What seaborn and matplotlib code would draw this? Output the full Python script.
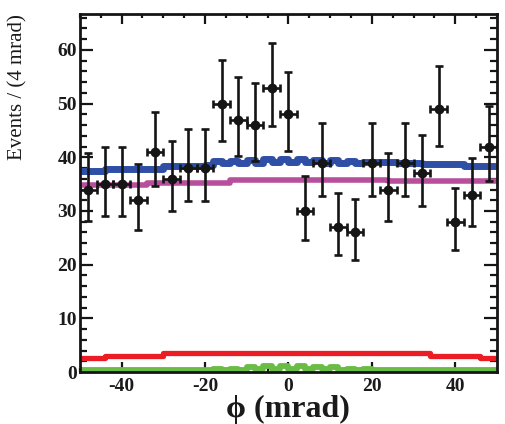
import numpy as np
import pandas as pd
import matplotlib
matplotlib.use("Agg")
import matplotlib.pyplot as plt
from matplotlib.ticker import MultipleLocator
import seaborn as sns

# Binned data: 4 mrad bins from -50 to 50 mrad
phi_centers = [-48, -44, -40, -36, -32, -28, -24, -20, -16, -12, -8, -4, 0,
               4, 8, 12, 16, 20, 24, 28, 32, 36, 40, 44, 48]
events = [34, 35, 35, 32, 41, 36, 38, 38, 50, 47, 46, 53, 48,
          30, 39, 27, 26, 39, 34, 39, 37, 49, 28, 33, 42]
# Asymmetric (Poisson) uncertainties
err_low = [5.80, 5.88, 5.88, 5.62, 6.37, 5.97, 6.13, 6.13, 7.04, 6.82, 6.75, 7.25, 6.90,
           5.44, 6.21, 5.16, 5.06, 6.21, 5.80, 6.21, 6.05, 6.97, 5.26, 5.71, 6.45]
err_high = [6.89, 6.98, 6.98, 6.72, 7.46, 7.06, 7.22, 7.22, 8.12, 7.91, 7.84, 8.33, 7.98,
            6.55, 7.30, 6.27, 6.17, 7.30, 6.89, 7.30, 7.14, 8.05, 6.36, 6.81, 7.54]

# Fit components, evaluated on 2 mrad steps from -50 to 50 mrad
total_fit = [37.4, 37.4, 37.4, 37.9, 37.9, 37.9, 37.9, 37.9, 37.9, 37.9,
             38.3, 38.3, 38.3, 38.3, 38.4, 38.6, 39.4, 38.9, 39.4, 39.0,
             39.5, 39.0, 39.6, 39.1, 39.6, 39.1, 39.6, 39.1, 39.5, 39.0,
             39.5, 39.0, 39.3, 38.9, 39.2, 39.1, 39.1, 39.1, 38.9, 38.9,
             38.9, 38.8, 38.8, 38.8, 38.8, 38.8, 38.3, 38.3, 38.3, 38.3]
background = [34.9, 34.9, 34.9, 34.9, 34.9, 34.9, 34.9, 34.9, 35.3, 35.3,
              35.3, 35.3, 35.3, 35.3, 35.3, 35.3, 35.3, 35.3, 35.7, 35.7,
              35.7, 35.7, 35.7, 35.7, 35.7, 35.7, 35.7, 35.7, 35.7, 35.7,
              35.7, 35.7, 35.7, 35.7, 35.7, 35.7, 35.7, 35.6, 35.6, 35.6,
              35.6, 35.6, 35.6, 35.6, 35.6, 35.6, 35.6, 35.6, 35.6, 35.6]
peaking_bkg = [2.7, 2.7, 2.7, 3.0, 3.0, 3.0, 3.0, 3.0, 3.0, 3.0,
               3.45, 3.45, 3.45, 3.45, 3.45, 3.45, 3.45, 3.45, 3.45, 3.45,
               3.45, 3.45, 3.45, 3.45, 3.45, 3.45, 3.45, 3.45, 3.45, 3.45,
               3.45, 3.45, 3.45, 3.45, 3.45, 3.45, 3.45, 3.45, 3.45, 3.45,
               3.45, 3.45, 3.0, 3.0, 3.0, 3.0, 3.0, 3.0, 2.7, 2.7]
signal = [0.3, 0.3, 0.3, 0.3, 0.3, 0.3, 0.3, 0.3, 0.3, 0.3,
          0.3, 0.3, 0.3, 0.3, 0.3, 0.4, 0.65, 0.4, 0.65, 0.45,
          0.85, 0.5, 1.05, 0.55, 1.2, 0.55, 1.15, 0.55, 1.0, 0.5,
          0.9, 0.45, 0.6, 0.4, 0.55, 0.3, 0.3, 0.3, 0.3, 0.3,
          0.3, 0.3, 0.3, 0.3, 0.3, 0.3, 0.3, 0.3, 0.3, 0.3]

x_tick_values = [-40, -20, 0, 20, 40]
y_tick_values = [0, 10, 20, 30, 40, 50, 60]

sns.set_theme(style="ticks")
plt.rcParams["font.family"] = ["Liberation Serif", "DejaVu Serif"]
plt.rcParams["axes.unicode_minus"] = False

fig = plt.figure(figsize=(5.06, 4.24), dpi=100)
ax = fig.add_axes([0.158, 0.1226, 0.824, 0.8444])

edges = np.arange(-50, 51, 2)
curves = pd.DataFrame({
    "phi": np.tile(edges, 4),
    "value": np.concatenate([
        np.append(total_fit, total_fit[-1]),
        np.append(background, background[-1]),
        np.append(peaking_bkg, peaking_bkg[-1]),
        np.append(signal, signal[-1]),
    ]),
    "component": np.repeat(["total", "background", "peaking", "signal"], len(edges)),
})
palette = {"total": "#2f4fa6", "background": "#b84f9c",
           "peaking": "#ec1c24", "signal": "#69bd45"}
widths = {"total": 5.0, "background": 4.0, "peaking": 3.8, "signal": 4.2}
for comp in ["signal", "peaking", "background", "total"]:
    sub = curves[curves["component"] == comp]
    sns.lineplot(data=sub, x="phi", y="value", ax=ax, color=palette[comp],
                 linewidth=widths[comp], drawstyle="steps-post",
                 solid_capstyle="butt", solid_joinstyle="round",
                 legend=False, zorder=2, clip_on=(comp != "signal"))

points = pd.DataFrame({"phi": phi_centers, "events": events})
ax.errorbar(points["phi"], points["events"], xerr=2,
            yerr=[err_low, err_high], fmt="none", ecolor="#151515",
            elinewidth=1.9, capsize=2.6, capthick=1.9, zorder=4)
sns.scatterplot(data=points, x="phi", y="events", ax=ax, color="#151515",
                s=50, edgecolor="#151515", linewidth=0, zorder=5, legend=False)

ax.set_xlim(-50, 50)
ax.set_ylim(0, 66.7)
ax.set_xticks(x_tick_values)
ax.set_yticks(y_tick_values)
ax.xaxis.set_minor_locator(MultipleLocator(5))
ax.yaxis.set_minor_locator(MultipleLocator(2))
ax.tick_params(which="both", direction="in", top=True, right=True,
               width=1.6, color="#151515")
ax.tick_params(axis="x", which="major", length=7, pad=4.5)
ax.tick_params(axis="x", which="minor", length=3.2)
ax.tick_params(axis="y", which="major", length=9.5, pad=2)
ax.tick_params(axis="y", which="minor", length=5)
for lab in ax.get_xticklabels() + ax.get_yticklabels():
    lab.set_fontsize(14)
    lab.set_fontweight("bold")
    lab.set_color("#1a1a1a")
for sp in ax.spines.values():
    sp.set_linewidth(2.0)
    sp.set_color("#151515")
    sp.set_zorder(6)

ax.set_xlabel("ϕ (mrad)", fontsize=23, fontweight="bold", color="#1a1a1a",
              labelpad=0)
ax.set_ylabel("Events / (4 mrad)", fontsize=15, color="#1a1a1a", loc="top")
ax.yaxis.set_label_coords(-0.125, 1.0)

fig.savefig("out.png", dpi=100, facecolor="white")
